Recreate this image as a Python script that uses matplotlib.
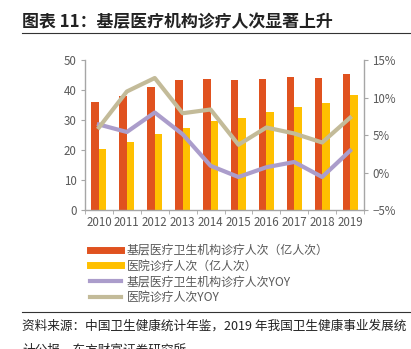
import matplotlib.pyplot as plt
import numpy as np
from matplotlib.lines import Line2D

plt.rcParams['font.family'] = ['Noto Sans CJK SC', 'DejaVu Sans']

years = ['2010', '2011', '2012', '2013', '2014', '2015', '2016', '2017', '2018', '2019']
# 诊疗人次（亿人次）
jiceng = [36.1, 38.1, 41.1, 43.2, 43.6, 43.4, 43.7, 44.3, 44.1, 45.3]
yiyuan = [20.4, 22.6, 25.4, 27.4, 29.7, 30.8, 32.7, 34.4, 35.8, 38.4]
# 同比增速（%）
jiceng_yoy = [6.4, 5.4, 8.0, 5.1, 0.9, -0.6, 0.7, 1.4, -0.6, 2.9]
yiyuan_yoy = [6.0, 10.8, 12.6, 7.9, 8.4, 3.7, 6.0, 5.2, 4.0, 7.3]

red = '#E0521F'
yellow = '#FFC000'
purple = '#AB9DCB'
khaki = '#C3BB99'
txt = '#595959'
axc = '#A6A6A6'

fig = plt.figure(figsize=(4.11, 3.49), dpi=100)
ax = fig.add_axes([85/411, 1-210/349, (364-85)/411, 150/349])
ax2 = ax.twinx()

x = np.arange(len(years))
w = 0.27
ax.bar(x - w/2, jiceng, w, color=red, zorder=2)
ax.bar(x + w/2, yiyuan, w, color=yellow, zorder=2)
ax.set_ylim(0, 50)
ax.set_yticks(range(0, 51, 10))
ax.set_xlim(-0.5, len(years) - 0.5)
ax.set_xticks(x)
ax.set_xticklabels(years)
ax.set_xticks(np.arange(-0.5, len(years), 1), minor=True)
ax.tick_params(axis='x', which='major', length=0, labelsize=8.3, labelcolor=txt, pad=4)
ax.tick_params(axis='x', which='minor', length=3, color=axc, direction='out')
ax.tick_params(axis='y', length=3, color=axc, labelsize=8.3, labelcolor=txt, pad=3)

ax2.plot(x, jiceng_yoy, color=purple, lw=3, zorder=3)
ax2.plot(x, yiyuan_yoy, color=khaki, lw=3, zorder=3)
ax2.set_ylim(-5, 15)
ax2.set_yticks(range(-5, 16, 5))
ax2.set_yticklabels(['\u22125%', '0%', '5%', '10%', '15%'])
ax2.tick_params(axis='y', length=3, color=axc, labelsize=8.3, labelcolor=txt, pad=3)

for a in (ax, ax2):
    a.spines['top'].set_visible(False)
    for s in ('left', 'right', 'bottom'):
        a.spines[s].set_color(axc)
        a.spines[s].set_linewidth(1)
ax.spines['right'].set_visible(False)
ax2.spines['left'].set_visible(False)
ax2.spines['bottom'].set_visible(False)

handles = [
    Line2D([], [], color=red, lw=5),
    Line2D([], [], color=yellow, lw=5),
    Line2D([], [], color=purple, lw=3),
    Line2D([], [], color=khaki, lw=3),
]
labels = ['基层医疗卫生机构诊疗人次（亿人次）', '医院诊疗人次（亿人次）',
          '基层医疗卫生机构诊疗人次YOY', '医院诊疗人次YOY']
fig.legend(handles, labels, loc='upper left', bbox_to_anchor=(90/411, 1-244/349),
           frameon=False, fontsize=8.6, labelcolor=txt, handlelength=2.6,
           handletextpad=0.5, labelspacing=0.22, borderpad=0, borderaxespad=0)

# title and source
fig.text(22/411, 1-22/349, '图表 11：基层医疗机构诊疗人次显著上升', fontsize=12.2,
         fontweight='bold', color='#222222', va='center', ha='left')
fig.add_artist(Line2D([22/411, 1], [1-33/349, 1-33/349], color='#333333', lw=0.8))
fig.add_artist(Line2D([22/411, 1], [1-312/349, 1-312/349], color='#333333', lw=0.8))
fig.text(22/411, 1-326/349, '资料来源：中国卫生健康统计年鉴，2019 年我国卫生健康事业发展统',
         fontsize=9.1, color='#222222', va='center', ha='left')
fig.text(22/411, 1-350/349, '计公报，东方财富证券研究所',
         fontsize=9.1, color='#222222', va='center', ha='left')

fig.savefig('out.png', dpi=100)
